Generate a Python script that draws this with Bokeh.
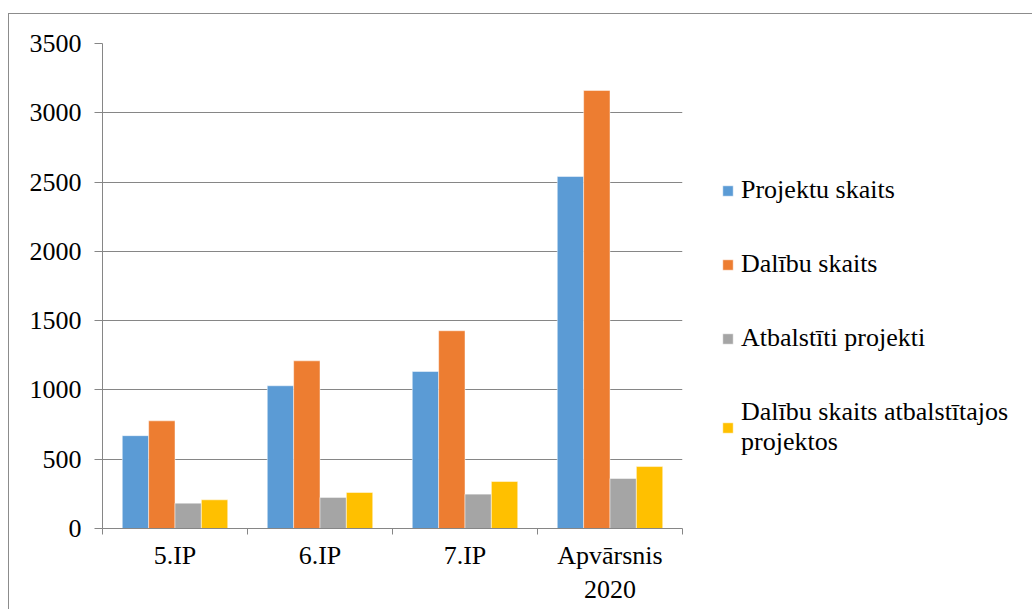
from bokeh.plotting import figure
from bokeh.models import (ColumnDataSource, Range1d, FixedTicker, Legend, LegendItem)
from bokeh.transform import dodge
from bokeh.embed import file_html
from bokeh.resources import INLINE

categories = ["5.IP", "6.IP", "7.IP", "Apvārsnis 2020"]
category_labels = ["5.IP", "6.IP", "7.IP", "Apvārsnis\n2020"]
series_names = ["Projektu skaits", "Dalību skaits", "Atbalstīti projekti",
                "Dalību skaits atbalstītajos\nprojektos"]
projektu_skaits = [670, 1030, 1133, 2540]
dalibu_skaits = [777, 1210, 1427, 3161]
atbalstiti_projekti = [183, 224, 248, 361]
dalibu_atbalstitajos = [207, 260, 339, 447]
y_ticks = [0, 500, 1000, 1500, 2000, 2500, 3000, 3500]
colors = ["#5B9BD5", "#ED7D31", "#A5A5A5", "#FFC000"]

series = [projektu_skaits, dalibu_skaits, atbalstiti_projekti, dalibu_atbalstitajos]
n = len(categories)
centers = [i + 0.5 for i in range(n)]
bounds = list(range(n + 1))
src = ColumnDataSource(dict(cat=categories, xc=centers, s0=series[0], s1=series[1],
                            s2=series[2], s3=series[3]))

FONT = "Liberation Serif"
AXIS_COL = "#868686"

p = figure(x_range=Range1d(0, n), y_range=Range1d(0, 3500),
           frame_width=580, frame_height=485,
           min_border_left=93, min_border_top=29, min_border_right=335, min_border_bottom=81,
           output_backend="svg", toolbar_location=None,
           margin=(13, 0, 0, 8),
           styles={"border": "1px solid #8c8c8c", "box-sizing": "border-box"})
p.outline_line_color = None
p.background_fill_color = "white"
p.border_fill_color = "white"

bw = 1 / 5.5
renderers = []
for i in range(4):
    r = p.vbar(x=dodge("xc", (i - 1.5) * bw), top=f"s{i}", width=bw,
               source=src, fill_color=colors[i], line_color="white", line_alpha=0.6, line_width=0.8)
    renderers.append(r)

# y axis
p.yaxis.ticker = FixedTicker(ticks=y_ticks)
p.yaxis.axis_line_color = AXIS_COL
p.yaxis.major_tick_line_color = AXIS_COL
p.yaxis.major_tick_out = 8
p.yaxis.major_tick_in = 0
p.yaxis.minor_tick_line_color = None
p.yaxis.major_label_text_font = FONT
p.yaxis.major_label_text_font_size = "26px"
p.yaxis.major_label_text_color = "black"
p.yaxis.major_label_standoff = 13
p.ygrid.grid_line_color = AXIS_COL
p.ygrid.grid_line_width = 1
p.xgrid.grid_line_color = None

# x axis: labels at category centres, ticks at category boundaries
xa = p.xaxis[0]
xa.ticker = FixedTicker(ticks=centers, minor_ticks=bounds)
xa.major_label_overrides = {c: l for c, l in zip(centers, category_labels)}
xa.axis_line_color = AXIS_COL
xa.major_tick_line_color = None
xa.minor_tick_line_color = AXIS_COL
xa.minor_tick_out = 6
xa.minor_tick_in = 0
xa.major_label_text_font = FONT
xa.major_label_text_font_size = "26px"
xa.major_label_text_color = "black"
xa.major_label_standoff = 6

legend = Legend(items=[LegendItem(label=nm, renderers=[r]) for nm, r in zip(series_names, renderers)],
                location=(39, 71))
legend.glyph_width = 13
legend.glyph_height = 13
legend.label_standoff = 7
legend.label_text_font = FONT
legend.label_text_font_size = "26px"
legend.label_text_color = "black"
legend.spacing = 44
legend.padding = 0
legend.margin = 0
legend.border_line_color = None
legend.background_fill_alpha = 0
p.add_layout(legend, "right")

open("out.html", "w").write(file_html(p, INLINE))
